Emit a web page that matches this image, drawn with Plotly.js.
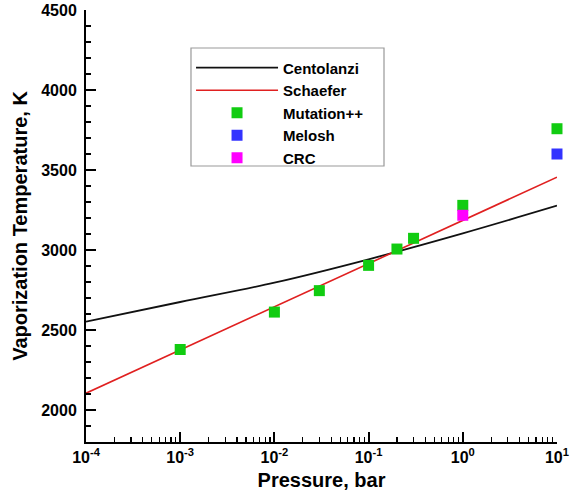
<!DOCTYPE html>
<html>
<head>
<meta charset="utf-8">
<script src="https://cdn.plot.ly/plotly-3.0.1.min.js"></script>
<style>html,body{margin:0;padding:0;background:#fff;}#chart{width:570px;height:498px;}</style>
</head>
<body>
<div id="chart"></div>
<script>
// Centolanzi curve
const centolanziP = [1e-4, 1e-3, 1e-2, 1e-1, 1, 10];
const centolanziT = [2552, 2675, 2796, 2942, 3104, 3277];
// Schaefer line
const schaeferP = [1e-4, 1e-3, 1e-2, 1e-1, 1, 10];
const schaeferT = [2105, 2375, 2645, 2915, 3185, 3455];
// Mutation++ points
const mutationP = [1e-3, 1e-2, 0.03, 0.1, 0.2, 0.3, 1, 10];
const mutationT = [2378, 2612, 2746, 2904, 3006, 3073, 3279, 3758];
// Melosh
const meloshP = [10];
const meloshT = [3600];
// CRC
const crcP = [1];
const crcT = [3217];
// x tick labels
const xTickVals = [1e-4, 1e-3, 1e-2, 1e-1, 1, 10];
const xTickText = ['10<sup>-4</sup>', '10<sup>-3</sup>', '10<sup>-2</sup>', '10<sup>-1</sup>', '10<sup>0</sup>', '10<sup>1</sup>'];

const FONT = 'Liberation Sans, Arial, Helvetica, sans-serif';

const traces = [
  {x: centolanziP, y: centolanziT, name: 'Centolanzi', mode: 'lines', type: 'scatter',
   line: {color: '#111111', width: 1.8, shape: 'spline'}},
  {x: schaeferP, y: schaeferT, name: 'Schaefer', mode: 'lines', type: 'scatter',
   line: {color: '#e02020', width: 1.6}},
  {x: mutationP, y: mutationT, name: 'Mutation++', mode: 'markers', type: 'scatter',
   marker: {symbol: 'square', size: 11, color: '#11cc11'}, cliponaxis: false},
  {x: meloshP, y: meloshT, name: 'Melosh', mode: 'markers', type: 'scatter',
   marker: {symbol: 'square', size: 11, color: '#3333ff'}, cliponaxis: false},
  {x: crcP, y: crcT, name: 'CRC', mode: 'markers', type: 'scatter',
   marker: {symbol: 'square', size: 11, color: '#ff00ff'}, cliponaxis: false}
];

const layout = {
  width: 570, height: 498,
  margin: {l: 86, r: 13, t: 10, b: 56},
  paper_bgcolor: '#fff', plot_bgcolor: '#fff',
  font: {family: FONT, color: '#000', weight: 'bold'},
  showlegend: true,
  legend: {
    x: 0.223, y: 0.904, xanchor: 'left', yanchor: 'top',
    bgcolor: 'rgba(0,0,0,0)', borderwidth: 0,
    font: {family: FONT, size: 15, weight: 'bold'},
    itemwidth: 82, tracegroupgap: 0
  },
  shapes: [
    {type: 'rect', xref: 'paper', yref: 'paper', x0: 0.2229, x1: 0.6327, y0: 0.6389, y1: 0.912,
     line: {color: '#999', width: 1.2}, fillcolor: '#fff', layer: 'above'}
  ],
  xaxis: {
    type: 'log', range: [-4, 1.0001],
    tickmode: 'array', tickvals: xTickVals, ticktext: xTickText,
    ticklabeloverflow: 'allow',
    showgrid: false, zeroline: false, showline: true, linecolor: '#000', linewidth: 2,
    ticks: 'inside', ticklen: 10, tickwidth: 2, tickcolor: '#000',
    tickfont: {family: FONT, size: 16, weight: 'bold'},
    minor: {ticks: 'inside', ticklen: 5, tickwidth: 1.2, tickcolor: '#000', dtick: 'D1'},
    title: {text: 'Pressure, bar', font: {family: FONT, size: 20, weight: 'bold'}, standoff: 8},
    mirror: false
  },
  yaxis: {
    range: [1800, 4500], dtick: 500, tick0: 2000,
    showgrid: false, zeroline: false, showline: true, linecolor: '#000', linewidth: 2,
    ticks: 'inside', ticklen: 10, tickwidth: 2, tickcolor: '#000',
    ticklabelstandoff: 4,
    tickfont: {family: FONT, size: 16, weight: 'bold'},
    minor: {dtick: 100, ticks: 'inside', ticklen: 5, tickwidth: 1.2, tickcolor: '#000'},
    title: {text: 'Vaporization Temperature, K', font: {family: FONT, size: 20, weight: 'bold'}, standoff: 8}
  }
};

Plotly.newPlot('chart', traces, layout, {displayModeBar: false, staticPlot: true});
</script>
</body>
</html>
